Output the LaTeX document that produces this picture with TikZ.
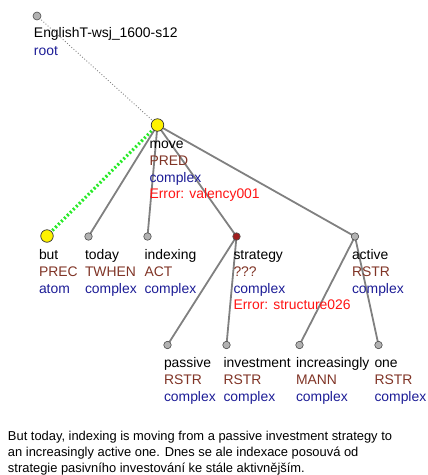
\documentclass[tikz,border=0pt]{standalone}
\usepackage{fontspec}
\setmainfont{Liberation Sans}
\begin{document}
\begin{tikzpicture}[x=1pt,y=-1pt,
  every node/.style={inner sep=0pt,outer sep=0pt},
  txt/.style={anchor=base west,font=\fontsize{13.9}{17}\selectfont},
  word/.style={txt,text=black},
  func/.style={txt,text=funcc},
  typ/.style={txt,text=typec},
  err/.style={txt,text=errc},
  small/.style={circle,draw=black!70,line width=0.6pt,fill=gray!60,minimum size=7.5pt},
  big/.style={circle,draw=black!80,line width=0.7pt,fill=yellow,minimum size=12.5pt},
  redd/.style={circle,draw=black!70,line width=0.6pt,fill=darkredc,minimum size=7.5pt},
  edge/.style={draw=edgec,line width=1.8pt},
  sent/.style={anchor=base west,font=\fontsize{12.9}{16}\selectfont}
]
\definecolor{funcc}{RGB}{128,52,38}
\definecolor{typec}{RGB}{28,28,150}
\definecolor{errc}{RGB}{255,20,20}
\definecolor{edgec}{RGB}{128,128,128}
\definecolor{darkredc}{RGB}{160,30,30}
\definecolor{greenc}{RGB}{40,235,40}
\useasboundingbox (0,0) rectangle (428,475);

% circle positions
\coordinate (root) at (37,16);
\coordinate (move) at (157.5,125);
\coordinate (but) at (47,236);
\coordinate (today) at (88.5,236.5);
\coordinate (indexing) at (147.5,236.5);
\coordinate (strategy) at (236.5,236.5);
\coordinate (active) at (355,236.5);
\coordinate (passive) at (167.5,345);
\coordinate (investment) at (226.5,345);
\coordinate (increasingly) at (299.5,345);
\coordinate (one) at (378.5,345);

% edges
\draw[draw=edgec,line width=0.9pt,dotted] (root) -- (move);
\draw[draw=greenc,line width=3.2pt,dash pattern=on 2pt off 2.2pt] (move) -- (but);
\draw[edge] (move) -- (today);
\draw[edge] (move) -- (indexing);
\draw[edge] (move) -- (strategy);
\draw[edge] (move) -- (active);
\draw[edge] (strategy) -- (passive);
\draw[edge] (strategy) -- (investment);
\draw[edge] (active) -- (increasingly);
\draw[edge] (active) -- (one);

% circles on top
\node[small,minimum size=8pt] (rootc) at (root) {};
\node[big] (movec) at (move) {};
\node[big] (butc) at (but) {};
\node[small] (todayc) at (today) {};
\node[small] (indexingc) at (indexing) {};
\node[redd] (strategyc) at (strategy) {};
\node[small] (activec) at (active) {};
\node[small] (passivec) at (passive) {};
\node[small] (investmentc) at (investment) {};
\node[small] (increasinglyc) at (increasingly) {};
\node[small] (onec) at (one) {};

% labels
\node[word] (rootw) at (34,37.5) {EnglishT-wsj\_1600-s12};
\node[typ] (roott) at (34,55) {root};

\node[word] (movew) at (149.5,148) {move};
\node[func] (movef) at (149.5,165) {PRED};
\node[typ] (movet) at (149.5,182) {complex};
\node[err] (movee) at (149.5,198.5) {Error: valency001};

\node[word] (butw) at (39,259) {but};
\node[func] (butf) at (39,276) {PREC};
\node[typ] (butt) at (39,293) {atom};

\node[word] (todayw) at (85,259) {today};
\node[func] (todayf) at (85,276) {TWHEN};
\node[typ] (todayt) at (85,293) {complex};

\node[word] (indexingw) at (144.5,259) {indexing};
\node[func] (indexingf) at (144.5,276) {ACT};
\node[typ] (indexingt) at (144.5,293) {complex};

\node[word] (strategyw) at (233.5,259) {strategy};
\node[func] (strategyf) at (233.5,276) {???};
\node[typ] (strategyt) at (233.5,293) {complex};
\node[err] (strategye) at (233.5,309.5) {Error: structure026};

\node[word] (activew) at (352,259) {active};
\node[func] (activef) at (352,276) {RSTR};
\node[typ] (activet) at (352,293) {complex};

\node[word] (passivew) at (164,367) {passive};
\node[func] (passivef) at (164,384.5) {RSTR};
\node[typ] (passivet) at (164,401.5) {complex};

\node[word] (investmentw) at (223.5,367) {investment};
\node[func] (investmentf) at (223.5,384.5) {RSTR};
\node[typ] (investmentt) at (223.5,401.5) {complex};

\node[word] (increasinglyw) at (296,367) {increasingly};
\node[func] (increasinglyf) at (296,384.5) {MANN};
\node[typ] (increasinglyt) at (296,401.5) {complex};

\node[word] (onew) at (374.5,367) {one};
\node[func] (onef) at (374.5,384.5) {RSTR};
\node[typ] (onet) at (374.5,401.5) {complex};

% sentence
\node[sent] (s1) at (8,440) {But today, indexing is moving from a passive investment strategy to};
\node[sent] (s2) at (8,456) {an increasingly active one. Dnes se ale indexace posouvá od};
\node[sent] (s3) at (8,472) {strategie pasivního investování ke stále aktivnějším.};
\end{tikzpicture}
\end{document}
